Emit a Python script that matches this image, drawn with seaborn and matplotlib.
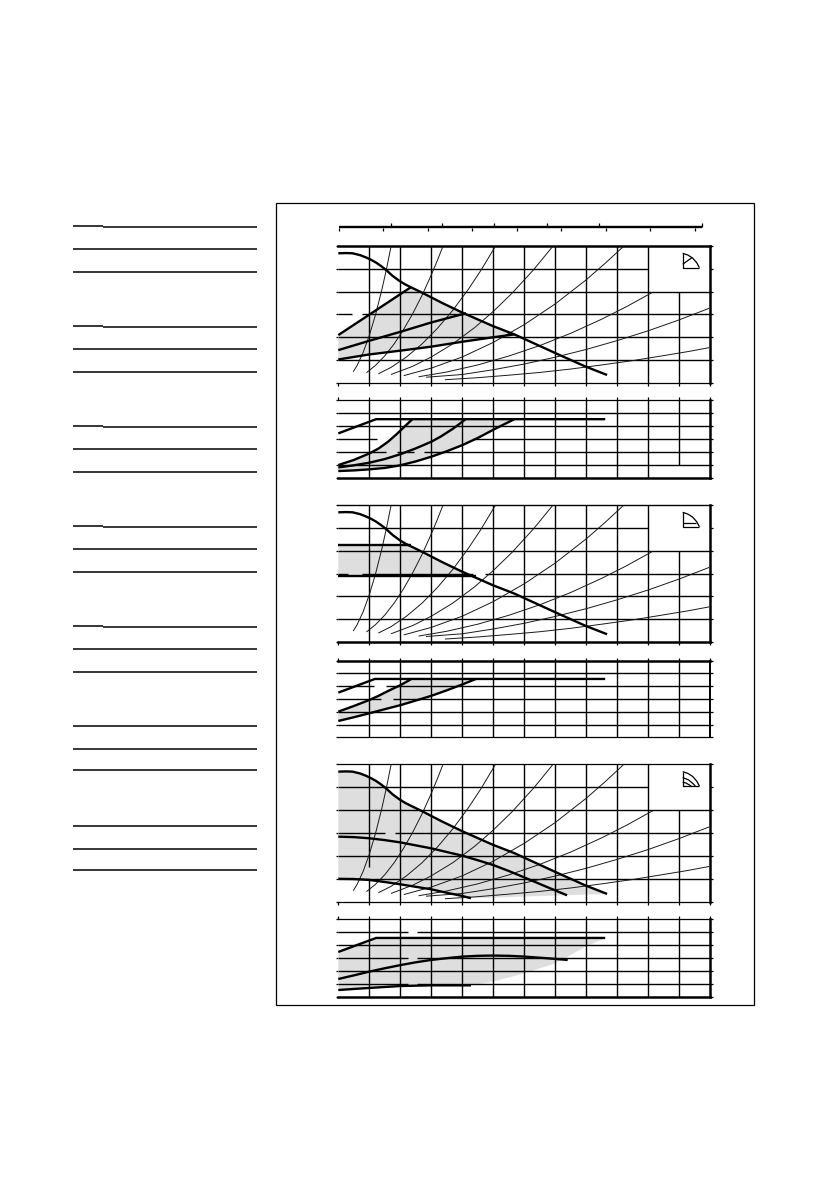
import matplotlib
matplotlib.use("Agg")
import matplotlib.pyplot as plt
import numpy as np
import pandas as pd
import seaborn as sns

sns.set_theme(style="white")

W, H = 839, 1191
GREY = "#dedede"
INK = "#000000"

# ---------- data (grid units: x 0..12, y 0..6) ----------
main_x = [0, 0.25, 0.46, 0.7, 0.89, 1.05, 1.22, 1.38, 1.54, 1.75, 1.97, 2.15, 2.34, 2.72, 3.35, 4.01, 4.98, 5.68, 7.13, 7.99, 8.67]
main_y = [5.68, 5.69, 5.68, 5.6, 5.50, 5.4, 5.27, 5.12, 4.95, 4.69, 4.47, 4.32, 4.19, 3.94, 3.50, 3.07, 2.49, 2.12, 1.22, 0.70, 0.34]

sys_curves = [
    ([0.48, 0.6, 0.8, 1.0, 1.2, 1.4, 1.55, 1.70], [0.48, 0.74, 1.32, 2.07, 2.98, 4.05, 4.96, 5.97]),
    ([0.91, 1.2, 1.5, 1.8, 2.1, 2.4, 2.7, 3.0, 3.2, 3.37], [0.44, 0.76, 1.18, 1.70, 2.32, 3.03, 3.83, 4.73, 5.38, 5.97]),
    ([1.29, 1.7, 2.2, 2.7, 3.2, 3.7, 4.2, 4.6, 5.06], [0.39, 0.67, 1.13, 1.70, 2.39, 3.19, 4.11, 4.93, 5.97]),
    ([1.7, 2.4, 3.0, 3.7, 4.4, 5.0, 5.6, 6.3, 6.91], [0.36, 0.72, 1.13, 1.71, 2.42, 3.13, 3.92, 4.96, 5.97]),
    ([2.11, 3.0, 4.0, 5.0, 6.0, 7.0, 8.0, 8.6, 9.19], [0.31, 0.64, 1.13, 1.77, 2.55, 3.46, 4.52, 5.23, 5.97]),
    ([2.59, 3.5, 4.5, 5.5, 6.5, 7.5, 8.5, 9.3, 10.14], [0.26, 0.47, 0.78, 1.17, 1.63, 2.17, 2.79, 3.34, 3.97]),
    ([2.83, 4.0, 5.0, 6.0, 7.0, 8.0, 9.0, 10.0, 11.0, 11.97], [0.24, 0.36, 0.57, 0.82, 1.12, 1.46, 1.85, 2.28, 2.76, 3.27]),
    ([3.44, 4.5, 5.5, 6.5, 7.5, 8.5, 9.5, 10.5, 11.3, 11.97], [0.13, 0.22, 0.33, 0.45, 0.60, 0.78, 0.97, 1.19, 1.37, 1.54]),
]

# panel 1
p1_a = ([0, 2.34], [2.09, 4.19])
p1_b = ([0, 1, 2.02, 2.99, 4.12], [1.43, 1.84, 2.24, 2.64, 3.05])
p1_c = ([0, 1, 2.02, 2.99, 4.01, 4.98, 5.68], [1.02, 1.24, 1.41, 1.58, 1.80, 1.99, 2.12])
p1_power = ([0, 1.22, 8.61], [3.40, 4.49, 4.49])
p1_q1 = ([0, 0.5, 1, 1.3, 1.6, 1.9, 2.15, 2.38], [0.97, 1.36, 1.86, 2.24, 2.75, 3.38, 3.95, 4.47])
p1_q2 = ([0, 0.5, 1, 1.5, 2, 2.5, 3, 3.3, 3.7, 4.1], [0.79, 0.95, 1.15, 1.43, 1.80, 2.25, 2.76, 3.15, 3.76, 4.47])
p1_q3 = ([0, 0.5, 1, 1.5, 2, 2.5, 3, 3.5, 4, 4.5, 5, 5.68], [0.51, 0.56, 0.64, 0.75, 0.95, 1.25, 1.61, 2.03, 2.50, 3.05, 3.68, 4.49])

# panel 2
p2_a = ([0, 2.34], [4.23, 4.23])
p2_b = ([0, 4.44], [2.87, 2.87])
p2_power = ([0, 1.18, 8.61], [3.50, 4.57, 4.57])
p2_q1 = ([0, 0.5, 1, 1.3, 1.6, 2, 2.34], [2.01, 2.45, 2.92, 3.25, 3.62, 4.08, 4.54])
p2_q2 = ([0, 0.5, 1, 1.5, 2.02, 2.5, 2.99, 3.5, 4.01, 4.44], [1.28, 1.57, 1.88, 2.20, 2.53, 2.88, 3.24, 3.68, 4.15, 4.57])

# panel 3
p3_m2 = ([0, 0.5, 1, 1.5, 2, 2.5, 3, 3.5, 4, 4.5, 5, 5.5, 6, 6.7, 7.38],
         [2.84, 2.82, 2.77, 2.69, 2.59, 2.46, 2.33, 2.17, 2.01, 1.81, 1.60, 1.34, 1.06, 0.66, 0.28])
p3_m3 = ([0, 0.5, 1, 1.5, 2, 2.5, 3, 3.5, 4, 4.28], [1.0, 0.99, 0.95, 0.86, 0.76, 0.65, 0.54, 0.39, 0.25, 0.15])
p3_power = ([0, 1.22, 8.61], [3.48, 4.56, 4.56])
p3_q2 = ([0, 0.5, 1, 1.5, 2.02, 2.5, 2.99, 3.5, 4.01, 4.5, 4.98, 5.5, 6, 6.7, 7.4],
         [1.39, 1.67, 1.96, 2.22, 2.47, 2.68, 2.86, 3.0, 3.12, 3.18, 3.20, 3.18, 3.12, 3.0, 2.86])
p3_q3 = ([0, 1, 2.02, 2.99, 4.28], [0.54, 0.70, 0.85, 0.90, 0.90])
p3_edge = ([8.61, 7.99, 7.0, 6.0, 4.98, 4.28], [4.56, 3.89, 2.6, 1.83, 1.18, 0.90])

# rules and ruler
rule_y = [227, 249, 272, 327, 349, 372, 427, 449, 472, 527, 549, 572, 627, 649, 672, 726, 749, 770, 826, 849, 870]
stepped_rules = [227, 327, 427, 527, 627]
ruler_up = [0, 1.68, 3.35, 5.03, 6.71, 8.39, 10.06, 11.74]
ruler_down = [0, 1.45, 2.88, 4.32, 5.75, 7.18, 8.62, 10.06, 11.49]

# icons
icon_box = ([11.11, 11.11, 11.65], [5.68, 5.05, 5.05])
icon_arc = ([11.11, 11.28, 11.43, 11.56, 11.65], [5.68, 5.60, 5.47, 5.27, 5.05])
icon_arc2 = ([11.11, 11.30, 11.43, 11.52], [5.42, 5.32, 5.17, 5.05])
icon_arc3 = ([11.11, 11.22, 11.32, 11.39], [5.22, 5.18, 5.10, 5.05])
icon_chord = ([11.11, 11.42], [5.2, 5.5])
icon_bar = ([11.11, 11.55], [5.2, 5.2])


# ---------- helpers ----------
def make_axes(left, top, right, bottom):
    ax = fig.add_axes([left / W, 1 - bottom / H, (right - left) / W, (bottom - top) / H])
    ax.set_xlim(0, 12)
    ax.set_ylim(0, 6)
    ax.patch.set_alpha(0)
    return ax


def curve(ax, xy, lw=1.7, color=INK):
    df = pd.DataFrame({"x": xy[0], "y": xy[1]})
    sns.lineplot(data=df, x="x", y="y", ax=ax, sort=False, estimator=None,
                 color=color, linewidth=lw, solid_capstyle="butt", clip_on=False, zorder=4)
    ax.set_xlabel("")
    ax.set_ylabel("")


def grid(ax, hgaps=None, vgaps=None, hskip=None, vskip=None):
    hgaps = hgaps or {}
    vgaps = vgaps or {}
    hskip = hskip or {}
    vskip = vskip or {}
    for y in range(1, 6):
        stops = [0] + [g for gap in hgaps.get(y, []) for g in gap] + [hskip.get(y, 12)]
        for a, b in zip(stops[::2], stops[1::2]):
            ax.plot([a, b], [y, y], color=INK, lw=1.0, zorder=2, solid_capstyle="butt")
    for x in range(1, 12):
        lo, hi = vskip.get(x, (0, 6))
        stops = [lo] + [g for gap in vgaps.get(x, []) for g in gap] + [hi]
        for a, b in zip(stops[::2], stops[1::2]):
            ax.plot([x, x], [a, b], color=INK, lw=1.0, zorder=2, solid_capstyle="butt")


def spines(ax, top, bottom, right):
    ax.spines["left"].set_visible(False)
    ax.spines["top"].set_linewidth(top)
    ax.spines["bottom"].set_linewidth(bottom)
    ax.spines["right"].set_linewidth(right)
    for s in ax.spines.values():
        s.set_color(INK)


def ticks(ax, upper):
    ax.set_xticks(range(0, 13))
    ax.set_yticks(range(0, 7))
    ax.set_xticklabels([])
    ax.set_yticklabels([])
    ax.tick_params(axis="y", left=True, right=True, length=1.8, width=0.9, color=INK)
    if upper:
        ax.tick_params(axis="x", top=False, bottom=True, length=1.8, width=0.9, color=INK)
    else:
        ax.tick_params(axis="x", top=True, bottom=False, length=2.2, width=0.9, color=INK)


def fill(ax, *parts):
    xs = np.concatenate([np.asarray(p[0], float) for p in parts])
    ys = np.concatenate([np.asarray(p[1], float) for p in parts])
    ax.fill(xs, ys, color=GREY, lw=0, zorder=1)


def section(x, y, a, b):
    x, y = np.asarray(x, float), np.asarray(y, float)
    m = (x >= a) & (x <= b)
    return x[m], y[m]


def icon(ax, parts):
    for p in parts:
        ax.plot(p[0], p[1], color=INK, lw=0.9, zorder=5, solid_capstyle="butt")


def thin(ax):
    for c in sys_curves:
        curve(ax, c, lw=0.7, color="#1a1a1a")


def rev(p):
    return (p[0][::-1], p[1][::-1])


fig = plt.figure(figsize=(W / 100, H / 100), dpi=100, facecolor="white")

# overlay in page coordinates
page = fig.add_axes([0, 0, 1, 1])
page.set_xlim(0, W)
page.set_ylim(H, 0)
page.axis("off")
page.add_patch(plt.Rectangle((276, 202.5), 478, 802.5, fill=False, ec=INK, lw=0.9))
for y in rule_y:
    if y in stepped_rules:
        page.plot([73, 103], [y - 0.7, y - 0.7], color=INK, lw=1.1, solid_capstyle="butt")
        page.plot([103, 257], [y, y], color=INK, lw=1.1, solid_capstyle="butt")
    else:
        page.plot([73, 257], [y, y], color=INK, lw=1.1, solid_capstyle="butt")

# ruler
rul = fig.add_axes([338.5 / W, 1 - 227.5 / H, 372 / W, 1 / H])
rul.set_xlim(0, 12)
rul.patch.set_alpha(0)
for s in rul.spines.values():
    s.set_visible(False)
rul.set_yticks([])
rul.plot([0, 11.74], [0.5, 0.5], color=INK, lw=1.7, solid_capstyle="butt", clip_on=False)
rul.set_xticks(ruler_down)
rul.set_xticklabels([])
rul.set_xticks(ruler_up, minor=True)
rul.set_xticklabels([], minor=True)
rul.tick_params(axis="x", which="major", bottom=True, top=False, length=2.2, width=0.9, color=INK)
rul.tick_params(axis="x", which="minor", bottom=False, top=True, length=2.6, width=0.9, color=INK)

# ---------- panel 1 ----------
ax = make_axes(338.3, 246, 710.3, 382.7)
fill(ax, p1_a, section(main_x, main_y, 2.34, 5.68), rev(p1_c))
grid(ax, hgaps={3: [(0.44, 0.78)]}, hskip={5: 10}, vskip={11: (0, 4)})
thin(ax)
curve(ax, (main_x, main_y))
curve(ax, p1_a); curve(ax, p1_b); curve(ax, p1_c)
icon(ax, [icon_box, icon_arc, icon_chord])
spines(ax, 1.8, 0.9, 1.8); ticks(ax, True)

ax = make_axes(338.3, 399.5, 710.3, 477.7)
fill(ax, p1_q1, ([4.10, 5.68], [4.47, 4.49]), rev(p1_q3))
grid(ax, hgaps={3: [(1.26, 4.35)], 2: [(1.54, 1.88), (2.45, 2.77)]}, vskip={11: (1, 6)})
curve(ax, p1_power); curve(ax, p1_q1); curve(ax, p1_q2); curve(ax, p1_q3)
spines(ax, 0.9, 1.8, 1.8); ticks(ax, False)

# ---------- panel 2 ----------
ax = make_axes(338.3, 505, 710.3, 642)
fill(ax, p2_a, section(main_x, main_y, 2.34, 4.44), ([4.44], [2.83]), rev(p2_b))
grid(ax, hgaps={3: [(0.30, 0.76), (4.33, 4.74)]}, hskip={5: 10}, vskip={11: (0, 4)})
thin(ax)
curve(ax, (main_x, main_y))
curve(ax, p2_a); curve(ax, p2_b)
icon(ax, [icon_box, icon_arc, icon_bar])
spines(ax, 1.0, 1.8, 1.8); ticks(ax, True)

ax = make_axes(338.3, 660.7, 710.3, 737.3)
fill(ax, p2_q1, ([2.34, 4.44], [4.54, 4.57]), rev(p2_q2))
grid(ax, hgaps={4: [(1.15, 1.54)], 3: [(1.37, 1.77)]})
curve(ax, p2_power); curve(ax, p2_q1); curve(ax, p2_q2)
spines(ax, 1.8, 0.9, 1.4); ticks(ax, False)

# ---------- panel 3 ----------
ax = make_axes(338.3, 764.3, 710.3, 901.7)
fill(ax, (main_x, main_y), ([4.28], [0.15]), rev(p3_m3))
grid(ax, hgaps={3: [(1.52, 1.83)]}, hskip={5: 10}, vskip={11: (0, 4)}, vgaps={1: [(1.0, 1.5)]})
thin(ax)
curve(ax, (main_x, main_y))
curve(ax, p3_m2); curve(ax, p3_m3)
icon(ax, [icon_box, icon_arc, icon_arc2, icon_arc3])
spines(ax, 0.9, 0.9, 1.8); ticks(ax, True)

ax = make_axes(338.3, 919.3, 710.3, 997)
fill(ax, p3_power, p3_edge, rev(p3_q3))
grid(ax, hgaps={5: [(2.25, 2.54)], 3: [(2.25, 2.54)], 1: [(2.25, 2.54)]})
curve(ax, p3_power); curve(ax, p3_q2); curve(ax, p3_q3)
spines(ax, 0.9, 1.8, 1.8); ticks(ax, False)

fig.savefig("out.png", dpi=100, facecolor="white")
